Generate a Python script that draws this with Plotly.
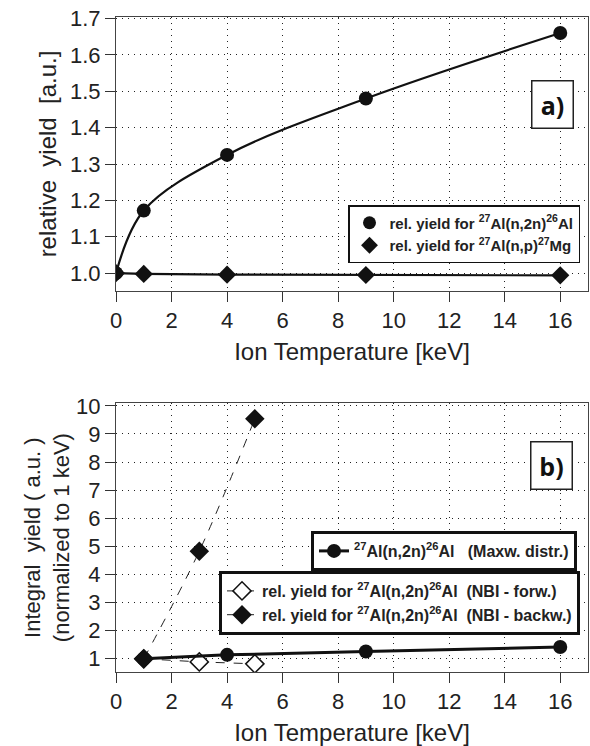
import plotly.graph_objects as go

# ---- data: panel a ----
temp_a = [0, 1, 4, 9, 16]
yield_n2n = [1.0, 1.172, 1.325, 1.48, 1.66]
yield_np = [1.0, 0.998, 0.996, 0.995, 0.994]

# ---- data: panel b ----
temp_maxw = [1, 4, 9, 16]
yield_maxw = [1.0, 1.14, 1.26, 1.42]
temp_nbi = [1, 3, 5]
yield_forw = [1.0, 0.89, 0.82]
yield_backw = [1.0, 4.83, 9.54]

xticks = [0, 2, 4, 6, 8, 10, 12, 14, 16]
yticks_a = [1.0, 1.1, 1.2, 1.3, 1.4, 1.5, 1.6, 1.7]
yticks_b = [1, 2, 3, 4, 5, 6, 7, 8, 9, 10]

name_n2n = "<b>rel. yield for <sup>27</sup>Al(n,2n)<sup>26</sup>Al</b>"
name_np = "<b>rel. yield for <sup>27</sup>Al(n,p)<sup>27</sup>Mg</b>"
name_maxw = "<b><sup>27</sup>Al(n,2n)<sup>26</sup>Al   (Maxw. distr.)</b>"
name_forw = "<b>rel. yield for <sup>27</sup>Al(n,2n)<sup>26</sup>Al  (NBI - forw.)</b>"
name_backw = "<b>rel. yield for <sup>27</sup>Al(n,2n)<sup>26</sup>Al  (NBI - backw.)</b>"

W, H = 590, 746
ML, MR, MT, MB = 116, 2, 17, 74
PH = H - MT - MB
PW = W - ML - MR


def yf(px):
    return (H - MB - px) / PH


def xf(px):
    return (px - ML) / PW


FONT = "Liberation Sans, Arial, sans-serif"
TXT = "#222"

fig = go.Figure()

# panel a
fig.add_trace(go.Scatter(
    x=temp_a, y=yield_n2n, mode="lines+markers", showlegend=False,
    line=dict(color="#111", width=2.2, shape="spline", smoothing=1.0),
    marker=dict(symbol="circle", size=14, color="#111"),
    xaxis="x", yaxis="y"))
fig.add_trace(go.Scatter(
    x=temp_a, y=yield_np, mode="lines+markers", showlegend=False,
    line=dict(color="#111", width=2.2),
    marker=dict(symbol="diamond", size=14, color="#111"),
    xaxis="x", yaxis="y"))
# legend-only entries (markers only, as in the reference legend)
fig.add_trace(go.Scatter(
    x=[None], y=[None], mode="markers", name=name_n2n,
    marker=dict(symbol="circle", size=13, color="#111"),
    xaxis="x", yaxis="y", legend="legend"))
fig.add_trace(go.Scatter(
    x=[None], y=[None], mode="markers", name=name_np,
    marker=dict(symbol="diamond", size=13, color="#111"),
    xaxis="x", yaxis="y", legend="legend"))

# panel b
fig.add_trace(go.Scatter(
    x=temp_nbi, y=yield_forw, mode="lines+markers", name=name_forw,
    line=dict(color="#222", width=1, dash="dash"),
    marker=dict(symbol="diamond", size=14, color="white",
                line=dict(color="#111", width=1.5)),
    xaxis="x2", yaxis="y2", legend="legend3"))
fig.add_trace(go.Scatter(
    x=temp_nbi, y=yield_backw, mode="lines+markers", name=name_backw,
    line=dict(color="#222", width=1, dash="dash", shape="spline"),
    marker=dict(symbol="diamond", size=15, color="#111"),
    xaxis="x2", yaxis="y2", legend="legend3"))
fig.add_trace(go.Scatter(
    x=temp_maxw, y=yield_maxw, mode="lines+markers", name=name_maxw,
    line=dict(color="#111", width=3),
    marker=dict(symbol="circle", size=14, color="#111"),
    xaxis="x2", yaxis="y2", legend="legend2"))

TICKF = dict(size=22, color=TXT, family=FONT)
TITLEF = dict(size=24, color=TXT, family=FONT)

common_x = dict(
    range=[0, 17], tickvals=xticks, ticks="outside", ticklen=10, tickwidth=1,
    tickcolor="#333", showline=True, linecolor="#444", linewidth=1, mirror=True,
    showgrid=True, gridcolor="#222", griddash="1px,5px", gridwidth=1.3,
    zeroline=False, tickfont=TICKF, automargin=False,
    title=dict(text="Ion Temperature [keV]", font=TITLEF, standoff=10),
)
common_y = dict(
    ticks="outside", ticklen=10, tickwidth=1, tickcolor="#333",
    showline=True, linecolor="#444", linewidth=1, mirror=True,
    showgrid=True, gridcolor="#222", griddash="1px,5px", gridwidth=1.3,
    zeroline=False, tickfont=TICKF, automargin=False,
)

legend_common = dict(
    bgcolor="white", bordercolor="#111",
    font=dict(size=16, color=TXT, family=FONT), xanchor="right", yanchor="top",
    tracegroupgap=0, itemwidth=30,
)

fig.update_layout(
    width=W, height=H,
    margin=dict(l=ML, r=MR, t=MT, b=MB),
    paper_bgcolor="white", plot_bgcolor="white",
    font=dict(family=FONT, color=TXT),
    xaxis=dict(common_x, domain=[0, 1], anchor="y"),
    yaxis=dict(common_y, domain=[yf(291), 1.0], anchor="x",
               range=[0.951, 1.704], tickvals=yticks_a, tickformat=".1f",
               title=dict(text="relative  yield  [a.u.]", font=TITLEF, standoff=6)),
    xaxis2=dict(common_x, domain=[0, 1], anchor="y2"),
    yaxis2=dict(common_y, domain=[0, yf(403.3)], anchor="x2",
                range=[0.53, 10.09], tickvals=yticks_b,
                title=dict(text="Integral  yield ( a.u. )<br>(normalized to 1 keV)",
                           font=dict(size=22, color=TXT, family=FONT), standoff=0)),
    legend=dict(legend_common, x=xf(580), y=yf(205), borderwidth=1.5,
                font=dict(size=15, color=TXT, family=FONT)),
    legend2=dict(legend_common, x=xf(577), y=yf(531), borderwidth=3),
    legend3=dict(legend_common, x=xf(580), y=yf(571), borderwidth=3),
    showlegend=True,
)

for txt, cx, cy in [("<b>a)</b>", 552, 104), ("<b>b)</b>", 551, 465)]:
    fig.add_annotation(
        text=txt, xref="paper", yref="paper", x=xf(cx), y=yf(cy),
        xanchor="center", yanchor="middle", showarrow=False,
        font=dict(size=25, color="#111", family="Open Sans, sans-serif"),
        width=40, height=46, borderwidth=1.5, bordercolor="#222",
        bgcolor="white", borderpad=0,
    )

fig.write_html("out.html", config={"displayModeBar": False},
               post_script="document.body.style.margin='0';document.body.style.overflow='hidden';")
